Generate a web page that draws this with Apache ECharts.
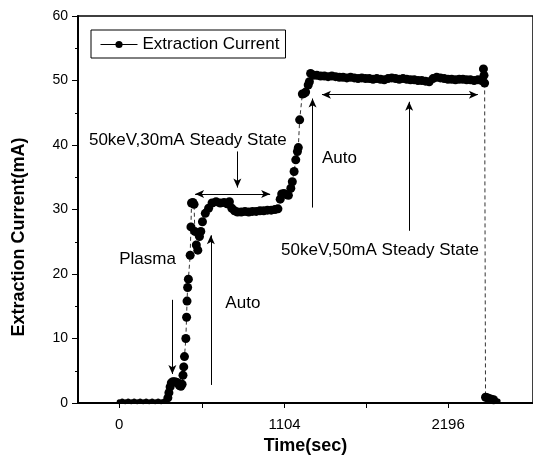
<!DOCTYPE html>
<html>
<head>
<meta charset="utf-8">
<script src="https://cdn.jsdelivr.net/npm/echarts@6/dist/echarts.min.js"></script>
<style>
  html, body { margin: 0; padding: 0; background: #fff; }
  #chart { width: 533px; height: 468px; }
</style>
</head>
<body>
<div id="chart"></div>
<script>
// time (sec) and extraction current (mA)
var times = [
  0, 20, 40, 60, 80, 100, 120, 140, 160, 180, 200, 220, 240, 260, 280, 300, 315,
  325, 332, 340, 348, 358, 370, 382, 394, 402, 412, 420, 426, 431, 436, 445, 450,
  453, 457, 462, 474, 479, 483, 492, 500, 505, 515, 525, 536, 545, 556, 575, 597,
  620, 647, 675, 700, 720, 736, 752, 770, 790, 815, 840, 865, 890, 915, 940, 965,
  990, 1015, 1040, 1060, 1075, 1085, 1100, 1115, 1130, 1146, 1156, 1168, 1179,
  1190, 1196, 1205, 1223, 1235, 1245, 1262, 1270, 1278, 1295, 1320, 1345, 1370,
  1395, 1420, 1445, 1470, 1495, 1520, 1545, 1570, 1595, 1620, 1645, 1670, 1695,
  1720, 1745, 1770, 1795, 1820, 1845, 1870, 1895, 1920, 1945, 1970, 1995, 2020,
  2045, 2070, 2095, 2120, 2145, 2170, 2195, 2220, 2245, 2270, 2295, 2320, 2345,
  2370, 2395, 2420, 2432, 2436, 2440, 2446, 2458, 2470, 2485, 2500, 2515, 2530
];
var current = [
  0.2, 0.3, 0.2, 0.3, 0.2, 0.3, 0.2, 0.3, 0.2, 0.3, 0.2, 0.3, 0.2, 0.3, 0.2, 0.3, 0.3,
  0.8, 1.6, 2.5, 3.1, 3.3, 3.3, 3.2, 3.1, 2.7, 2.6, 2.9, 4.3, 5.6, 7.2, 10.0, 13.3,
  15.8, 17.9, 19.2, 22.9, 27.3, 31.0, 31.1, 30.8, 26.6, 24.5, 23.7, 25.8, 26.6, 28.1, 29.4, 30.2,
  31.0, 31.2, 31.0, 31.1, 30.9, 31.2, 30.2, 29.8, 29.6, 29.6, 29.7, 29.6, 29.7, 29.7, 29.8, 29.8,
  29.9, 29.9, 30.0, 30.1, 31.6, 32.4, 32.5, 32.3, 32.2, 33.3, 34.3, 35.9, 37.7,
  39.0, 39.6, 43.9, 47.9, 48.0, 48.2, 49.3, 49.8, 51.1, 50.8, 50.8, 50.7, 50.7,
  50.6, 50.7, 50.6, 50.5, 50.5, 50.4, 50.5, 50.4, 50.3, 50.4, 50.3, 50.3, 50.2,
  50.3, 50.2, 50.1, 50.3, 50.4, 50.3, 50.2, 50.3, 50.2, 50.1, 50.1, 50.0, 50.0,
  49.9, 49.8, 50.3, 50.5, 50.4, 50.3, 50.2, 50.2, 50.1, 50.2, 50.2, 50.1, 50.1,
  50.0, 50.1, 50.0, 51.8, 50.8, 49.6, 0.9, 0.8, 0.7, 0.6, 0.5, 0.4, 0.3
];
var xTickLabels = [0, 1104, 2196];
var xTickMarks = [0, 552, 1104, 1650, 2196];

// annotation texts: [label, time, current]
var notes = [
  ['Plasma', 0, 22.2],
  ['Auto', 709, 15.5],
  ['50keV,30mA Steady State', -202, 40.8],
  ['Auto', 1354, 38],
  ['50keV,50mA Steady State', 1081, 23.6]
];
// annotation arrows: [t1, v1, t2, v2, both ends?]
var arrows = [
  [355, 16, 355, 4.5, false],
  [612, 2.8, 612, 26, false],
  [789, 39, 789, 33.4, false],
  [507, 32.4, 1008, 32.4, true],
  [1291, 30.3, 1291, 47.2, false],
  [1354, 47.8, 2395, 47.8, true],
  [1936, 26.7, 1936, 46.7, false]
];

var font = '"Liberation Sans", Arial, sans-serif';
var points = times.map(function (t, i) { return [t, current[i]]; });

var myChart = echarts.init(document.getElementById('chart'));

myChart.setOption({
  animation: false,
  backgroundColor: '#fff',
  grid: {
    left: 78, right: -2, top: 16, bottom: 65,
    show: true, borderColor: '#000', borderWidth: 1.5
  },
  legend: {
    data: ['Extraction Current'],
    left: 91, top: 30,
    borderColor: '#000', borderWidth: 1,
    padding: [6, 6, 5, 9],
    itemWidth: 37, itemHeight: 9,
    lineStyle: { type: 'solid', width: 1, color: '#000' },
    textStyle: { fontSize: 17, color: '#000', fontFamily: font }
  },
  xAxis: {
    type: 'value',
    min: -275, max: 2763,
    name: 'Time(sec)',
    nameLocation: 'middle',
    nameGap: 34,
    nameTextStyle: { fontSize: 18, fontWeight: 'bold', color: '#000', fontFamily: font },
    axisLine: { lineStyle: { color: '#000', width: 2 } },
    axisTick: { customValues: xTickMarks, length: 5, lineStyle: { color: '#000' } },
    axisLabel: {
      customValues: xTickLabels, margin: 14, fontSize: 15, color: '#000', fontFamily: font,
      formatter: function (v) { return String(v); }
    },
    splitLine: { show: false }
  },
  yAxis: {
    type: 'value',
    min: 0, max: 60, interval: 10,
    name: 'Extraction Current(mA)',
    nameLocation: 'middle',
    nameGap: 50,
    nameTextStyle: { fontSize: 18, fontWeight: 'bold', color: '#000', fontFamily: font, padding: [0, 55, 0, 0] },
    axisLine: { show: true, onZero: false, lineStyle: { color: '#000', width: 2 } },
    axisTick: { length: 6, lineStyle: { color: '#000' } },
    minorTick: { show: true, splitNumber: 2, length: 3, lineStyle: { color: '#000' } },
    axisLabel: { margin: 10, fontSize: 14, color: '#000', fontFamily: font },
    splitLine: { show: false }
  },
  series: [
    {
      name: 'Extraction Current',
      type: 'line',
      data: points,
      symbol: 'circle',
      symbolSize: function (val) { return val[1] < 0.5 ? 5 : 9; },
      itemStyle: { color: '#000' },
      lineStyle: { color: '#333', width: 1, type: [4, 3] },
      markLine: {
        silent: true,
        symbol: ['none', 'arrow'],
        symbolSize: [6, 9],
        lineStyle: { color: '#000', width: 1, type: 'solid' },
        label: { show: false },
        data: arrows.map(function (a) {
          return [
            { coord: [a[0], a[1]], symbol: a[4] ? 'arrow' : 'none' },
            { coord: [a[2], a[3]], symbol: 'arrow' }
          ];
        })
      },
      markPoint: {
        silent: true,
        symbol: 'circle',
        symbolSize: 0,
        label: {
          show: true, position: 'right', distance: 0, formatter: '{b}',
          fontSize: 17, color: '#000', fontFamily: font
        },
        data: notes.map(function (n) { return { name: n[0], coord: [n[1], n[2]] }; })
      }
    }
  ]
});
</script>
</body>
</html>
